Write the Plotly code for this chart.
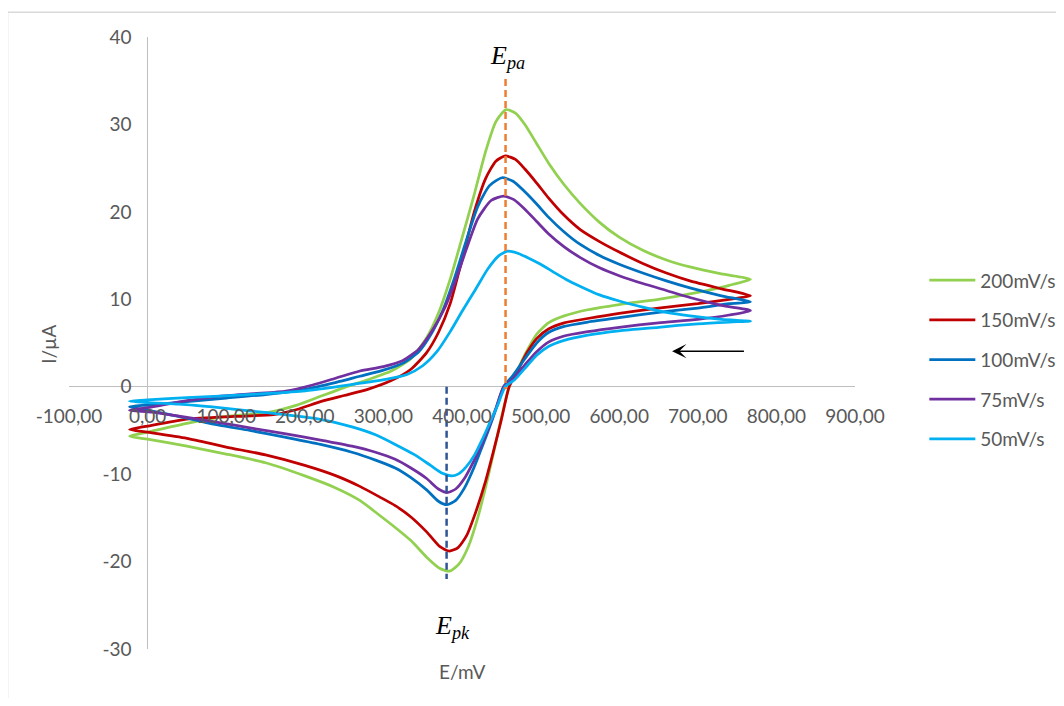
import plotly.graph_objects as go

# ---------------- data ----------------
# 200 mV/s : forward (anodic) scan, then reverse scan
E200_fwd = [-23, 0, 50, 100, 150, 190, 220, 250, 280, 310, 335, 355, 370, 385, 400, 415, 430, 443, 456,
            468, 480, 495, 510, 530, 550, 575, 600, 630, 660, 690, 730, 767]
I200_fwd = [-5.65, -5.2, -4.2, -3.4, -3.0, -2.1, -1.1, -0.1, 0.8, 1.8, 3.2, 5.6, 8.4, 12.3, 17.0, 21.8, 26.9, 30.3, 31.7,
            31.3, 30.0, 27.8, 25.6, 23.1, 21.0, 18.8, 17.1, 15.6, 14.5, 13.7, 12.9, 12.3]
E200_rev = [740, 700, 650, 600, 560, 530, 510, 495, 482, 470, 460, 450, 440, 430, 420, 408, 396, 384, 372,
            355, 335, 315, 295, 270, 240, 200, 150, 100, 50, 0, -23]
I200_rev = [11.6, 10.8, 10.0, 9.4, 8.8, 8.1, 7.3, 6.0, 4.0, 1.8, 0.0, -3.6, -7.6, -11.5, -15.0, -18.3, -20.3, -21.1, -20.8,
            -19.5, -17.6, -16.1, -14.7, -13.0, -11.6, -10.2, -8.7, -7.7, -6.8, -6.0, -5.65]

# 150 mV/s
E150_fwd = [-23, 0, 50, 110, 160, 190, 220, 250, 280, 310, 335, 355, 370, 385, 400, 415, 430, 443, 455,
            468, 480, 495, 510, 530, 550, 575, 600, 630, 660, 690, 730, 767]
I150_fwd = [-4.9, -4.5, -3.7, -3.4, -3.2, -2.6, -1.7, -1.0, -0.3, 0.7, 2.0, 3.9, 6.2, 9.5, 14.5, 19.8, 23.8, 25.8, 26.4,
            26.0, 24.9, 23.3, 21.6, 19.6, 18.0, 16.6, 15.4, 14.1, 13.0, 12.1, 11.2, 10.4]
E150_rev = [740, 700, 650, 600, 560, 530, 510, 495, 482, 470, 460, 450, 440, 430, 418, 406, 395, 384, 372,
            355, 335, 315, 295, 270, 240, 200, 150, 100, 50, 0, -23]
I150_rev = [10.0, 9.5, 9.0, 8.4, 7.8, 7.3, 6.6, 5.5, 3.8, 1.7, 0.0, -3.8, -7.4, -10.8, -14.2, -17.0, -18.4, -18.8, -18.3,
            -16.6, -14.9, -13.6, -12.6, -11.4, -10.2, -9.0, -7.8, -6.9, -5.9, -5.2, -4.9]

# 100 mV/s
E100_fwd = [-23, 0, 50, 100, 150, 200, 240, 270, 300, 325, 345, 360, 375, 390, 405, 420, 435, 451,
            465, 480, 495, 510, 530, 550, 575, 600, 630, 660, 690, 730, 767]
I100_fwd = [-2.3, -2.1, -1.7, -1.3, -0.9, -0.3, 0.5, 1.2, 1.9, 2.7, 4.0, 5.9, 8.6, 12.3, 16.6, 20.6, 23.0, 23.9,
            23.5, 22.3, 20.9, 19.4, 17.7, 16.3, 15.0, 14.0, 13.0, 12.1, 11.3, 10.4, 9.7]
E100_rev = [740, 700, 650, 600, 560, 530, 510, 495, 480, 465, 453, 443, 434, 425, 415, 403, 392, 381, 370,
            355, 335, 315, 290, 260, 220, 176, 130, 91, 50, 6, -23]
I100_rev = [9.5, 9.0, 8.5, 7.9, 7.4, 6.9, 6.2, 5.0, 3.2, 1.3, 0.0, -2.6, -4.9, -7.0, -9.3, -11.6, -13.0, -13.5, -13.1,
            -11.8, -10.4, -9.3, -8.4, -7.5, -6.6, -5.8, -5.0, -4.4, -3.6, -2.8, -2.3]

# 75 mV/s
E75_fwd = [-23, 0, 50, 91, 135, 176, 210, 240, 270, 300, 325, 345, 362, 378, 392, 405, 420, 437, 453,
           466, 480, 495, 510, 530, 550, 575, 600, 630, 660, 690, 730, 767]
I75_fwd = [-2.7, -2.4, -1.6, -1.1, -0.8, -0.5, 0.2, 1.0, 1.8, 2.3, 3.0, 4.3, 6.4, 9.0, 12.2, 15.6, 19.2, 21.3, 21.8,
           21.4, 20.3, 18.9, 17.5, 16.0, 14.8, 13.6, 12.7, 11.8, 11.0, 10.2, 9.3, 8.7]
E75_rev = [740, 700, 650, 600, 560, 530, 510, 495, 480, 465, 453, 443, 434, 425, 415, 403, 392, 381, 370,
           355, 335, 315, 290, 260, 220, 176, 130, 91, 50, 6, -23]
I75_rev = [8.2, 7.7, 7.3, 6.8, 6.3, 5.8, 5.1, 4.0, 2.5, 0.9, 0.0, -2.5, -4.7, -6.6, -8.5, -10.5, -11.7, -12.1, -11.7,
           -10.5, -9.3, -8.3, -7.5, -6.8, -6.1, -5.4, -4.7, -4.1, -3.5, -2.9, -2.7]

# 50 mV/s
E50_fwd = [-23, 0, 50, 133, 197, 260, 303, 330, 350, 368, 385, 400, 417, 433, 447, 458,
           470, 485, 500, 515, 532, 550, 575, 600, 630, 660, 690, 730, 767]
I50_fwd = [-1.65, -1.5, -1.26, -0.88, -0.5, 0.26, 0.84, 1.4, 2.4, 4.0, 6.3, 8.6, 11.1, 13.5, 15.0, 15.5,
           15.3, 14.7, 14.0, 13.2, 12.3, 11.5, 10.5, 9.8, 9.1, 8.5, 8.1, 7.7, 7.5]
E50_rev = [740, 700, 650, 600, 560, 530, 510, 495, 480, 467, 455, 445, 435, 426, 416, 405, 395, 387, 375,
           360, 340, 315, 290, 260, 218, 155, 91, 40, 6, -23]
I50_rev = [7.4, 7.2, 6.8, 6.4, 5.9, 5.3, 4.6, 3.6, 2.1, 0.8, 0.0, -2.2, -4.2, -6.0, -7.8, -9.2, -10.0, -10.2, -9.9,
           -9.0, -7.8, -6.6, -5.5, -4.6, -3.7, -3.0, -2.4, -2.0, -1.85, -1.65]

SERIES_NAMES = ["200mV/s", "150mV/s", "100mV/s", "75mV/s", "50mV/s"]
SERIES_COLORS = ["#92D050", "#C00000", "#0070C0", "#7030A0", "#00B0F0"]

# peak potential markers
EPA_X = [455.4, 455.4]
EPA_Y = [35.2, -0.3]
EPK_X = [380.4, 380.4]
EPK_Y = [0.0, -22.0]

# scan direction arrow (tail -> head)
ARROW_X = [760.6, 667.3]
ARROW_Y = [4.07, 4.07]

X_TICKS = [-100, 0, 100, 200, 300, 400, 500, 600, 700, 800, 900]
X_TICK_LABELS = ["-100,00", "0,00", "100,00", "200,00", "300,00", "400,00",
                 "500,00", "600,00", "700,00", "800,00", "900,00"]
Y_TICKS = [-30, -20, -10, 0, 10, 20, 30, 40]
Y_TICK_LABELS = ["-30", "-20", "-10", "0", "10", "20", "30", "40"]

# ---------------- figure ----------------
FONT = "Lato"
GRAY = "#595959"

series = [
    (E200_fwd + E200_rev, I200_fwd + I200_rev),
    (E150_fwd + E150_rev, I150_fwd + I150_rev),
    (E100_fwd + E100_rev, I100_fwd + I100_rev),
    (E75_fwd + E75_rev, I75_fwd + I75_rev),
    (E50_fwd + E50_rev, I50_fwd + I50_rev),
]

fig = go.Figure()
for (xs, ys), name, col in zip(series, SERIES_NAMES, SERIES_COLORS):
    fig.add_trace(go.Scatter(
        x=xs, y=ys, mode="lines", name=name, legendgroup=name,
        line=dict(color=col, width=2.75, shape="spline", smoothing=0.6),
        hoverinfo="skip",
    ))

fig.add_trace(go.Scatter(x=EPA_X, y=EPA_Y, mode="lines", showlegend=False,
                         line=dict(color="#ED7D31", width=2.5, dash="7px,4px"), hoverinfo="skip"))
fig.add_trace(go.Scatter(x=EPK_X, y=EPK_Y, mode="lines", showlegend=False,
                         line=dict(color="#2F5597", width=2.5, dash="7px,4px"), hoverinfo="skip"))

x_min, x_max = -100, 900
y_min, y_max = -30, 40

fig.update_layout(
    width=1048, height=690,
    margin=dict(l=61, r=201, t=29, b=49, autoexpand=False),
    paper_bgcolor="white", plot_bgcolor="white",
    font=dict(family=FONT, color=GRAY, size=19),
    xaxis=dict(range=[x_min, x_max], tickvals=X_TICKS, ticktext=X_TICK_LABELS,
               showgrid=False, showline=False, zeroline=True, zerolinecolor="#BFBFBF", zerolinewidth=1,
               anchor="free", position=(0 - y_min) / (y_max - y_min), automargin=False,
               ticks="", ticklabelstandoff=16, tickfont=dict(family=FONT, size=19, color=GRAY)),
    yaxis=dict(range=[y_min, y_max], tickvals=Y_TICKS, ticktext=Y_TICK_LABELS,
               showgrid=False, showline=False, zeroline=True, zerolinecolor="#BFBFBF", zerolinewidth=1,
               anchor="free", position=(0 - x_min) / (x_max - x_min), automargin=False,
               ticks="", ticklabelstandoff=16, tickfont=dict(family=FONT, size=19, color=GRAY)),
    legend=dict(x=1.0882, xanchor="left", y=0.6335, yanchor="top",
                traceorder="grouped", tracegroupgap=12, itemwidth=46,
                font=dict(family=FONT, size=19, color=GRAY), bgcolor="rgba(0,0,0,0)"),
    showlegend=True,
)

# axis titles
fig.add_annotation(text="I/µA", xref="paper", yref="paper", x=-0.0254, y=0.497, textangle=-90,
                   xanchor="center", yanchor="middle",
                   showarrow=False, font=dict(family=FONT, size=19, color=GRAY))
fig.add_annotation(text="E/mV", xref="paper", yref="paper", x=0.5, y=-0.036,
                   xanchor="center", yanchor="middle",
                   showarrow=False, font=dict(family=FONT, size=19, color=GRAY))

# peak labels
fig.add_annotation(text="<i>E</i><sub><i>pa</i></sub>", x=EPA_X[0] + 2, y=37.7, xref="x", yref="y",
                   showarrow=False, font=dict(family="Liberation Serif", size=26, color="#000000"))
fig.add_annotation(text="<i>E</i><sub><i>pk</i></sub>", x=388.4, y=-27.5, xref="x", yref="y",
                   showarrow=False, font=dict(family="Liberation Serif", size=26, color="#000000"))

# scan direction arrow
fig.add_annotation(x=ARROW_X[1], y=ARROW_Y[1], ax=ARROW_X[0], ay=ARROW_Y[0],
                   xref="x", yref="y", axref="x", ayref="y", text="",
                   showarrow=True, arrowhead=3, arrowsize=1.6, arrowwidth=1.5, arrowcolor="#000000")

# outer chart frame (left & top edges visible)
fig.add_shape(type="rect", xref="paper", yref="paper", x0=-0.0782, y0=-0.12, x1=1.3, y1=1.0405,
              line=dict(color="#D9D9D9", width=1.5), fillcolor="rgba(0,0,0,0)", layer="below")

fig.write_html("out.html")
